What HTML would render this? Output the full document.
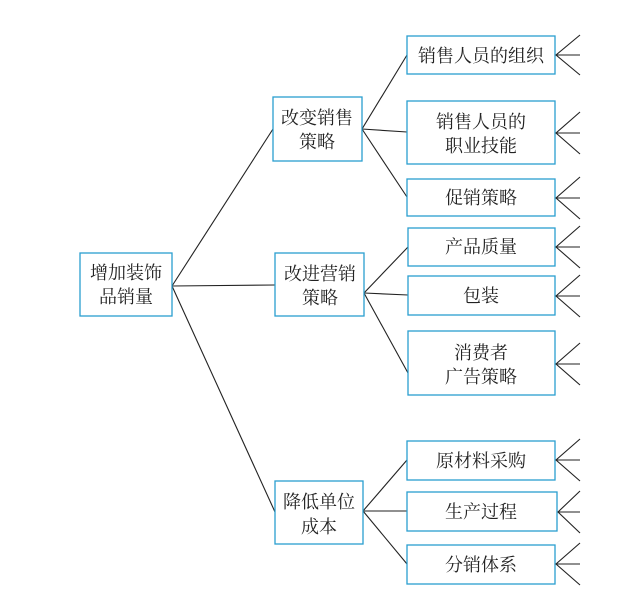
<!DOCTYPE html>
<html><head><meta charset="utf-8"><style>
body{margin:0;background:#fff;}
svg text{font-family:"Liberation Serif","Noto Serif CJK SC",serif;font-size:18px;fill:#222;text-anchor:middle;}
rect{fill:#fff;stroke:#2a9fd0;stroke-width:1.3;}
line{stroke:#222;stroke-width:1.1;}
</style></head><body>
<svg width="638" height="598" xmlns="http://www.w3.org/2000/svg">
<g>
<line x1="172" y1="286" x2="273" y2="129"/>
<line x1="172" y1="286" x2="275" y2="285"/>
<line x1="172" y1="286" x2="275" y2="512"/>
<line x1="362" y1="129" x2="407" y2="55"/>
<line x1="362" y1="129" x2="407" y2="132"/>
<line x1="362" y1="129" x2="407" y2="197"/>
<line x1="364" y1="293" x2="408" y2="247"/>
<line x1="364" y1="293" x2="408" y2="295"/>
<line x1="364" y1="293" x2="408" y2="373"/>
<line x1="363" y1="511" x2="407" y2="460"/>
<line x1="363" y1="511" x2="407" y2="511"/>
<line x1="363" y1="511" x2="407" y2="564"/>
</g>
<g>
<rect x="80" y="253" width="92" height="63"/>
<text x="126" y="279">增加装饰</text><text x="126" y="303">品销量</text>
<rect x="273" y="97" width="89" height="64"/>
<text x="317" y="124">改变销售</text><text x="317" y="148">策略</text>
<rect x="275" y="253" width="89" height="63"/>
<text x="320" y="280">改进营销</text><text x="320" y="304">策略</text>
<rect x="275" y="481" width="88" height="63"/>
<text x="319" y="508">降低单位</text><text x="319" y="533">成本</text>
<rect x="407" y="36" width="148" height="38"/><text x="481" y="62">销售人员的组织</text>
<rect x="407" y="101" width="148" height="63"/><text x="481" y="128">销售人员的</text><text x="481" y="152">职业技能</text>
<rect x="407" y="179" width="148" height="37"/><text x="481" y="204">促销策略</text>
<rect x="408" y="228" width="147" height="38"/><text x="481" y="253">产品质量</text>
<rect x="408" y="276" width="147" height="39"/><text x="481" y="302">包装</text>
<rect x="408" y="331" width="147" height="64"/><text x="481" y="359">消费者</text><text x="481" y="383">广告策略</text>
<rect x="407" y="441" width="148" height="39"/><text x="481" y="467">原材料采购</text>
<rect x="407" y="492" width="150" height="39"/><text x="481" y="518">生产过程</text>
<rect x="407" y="545" width="148" height="39"/><text x="481" y="571">分销体系</text>
</g>
<g>
<path d="M580 35L556 55L580 75M556 55H580" fill="none" stroke="#222" stroke-width="1.1"/>
<path d="M580 112L556 133L580 154M556 133H580" fill="none" stroke="#222" stroke-width="1.1"/>
<path d="M580 177L556 198L580 219M556 198H580" fill="none" stroke="#222" stroke-width="1.1"/>
<path d="M580 226L556 247L580 268M556 247H580" fill="none" stroke="#222" stroke-width="1.1"/>
<path d="M580 275L556 296L580 317M556 296H580" fill="none" stroke="#222" stroke-width="1.1"/>
<path d="M580 343L556 364L580 385M556 364H580" fill="none" stroke="#222" stroke-width="1.1"/>
<path d="M580 439L556 460L580 481M556 460H580" fill="none" stroke="#222" stroke-width="1.1"/>
<path d="M580 491L558 512L580 533M558 512H580" fill="none" stroke="#222" stroke-width="1.1"/>
<path d="M580 543L556 564L580 585M556 564H580" fill="none" stroke="#222" stroke-width="1.1"/>
</g>
</svg>
</body></html>
